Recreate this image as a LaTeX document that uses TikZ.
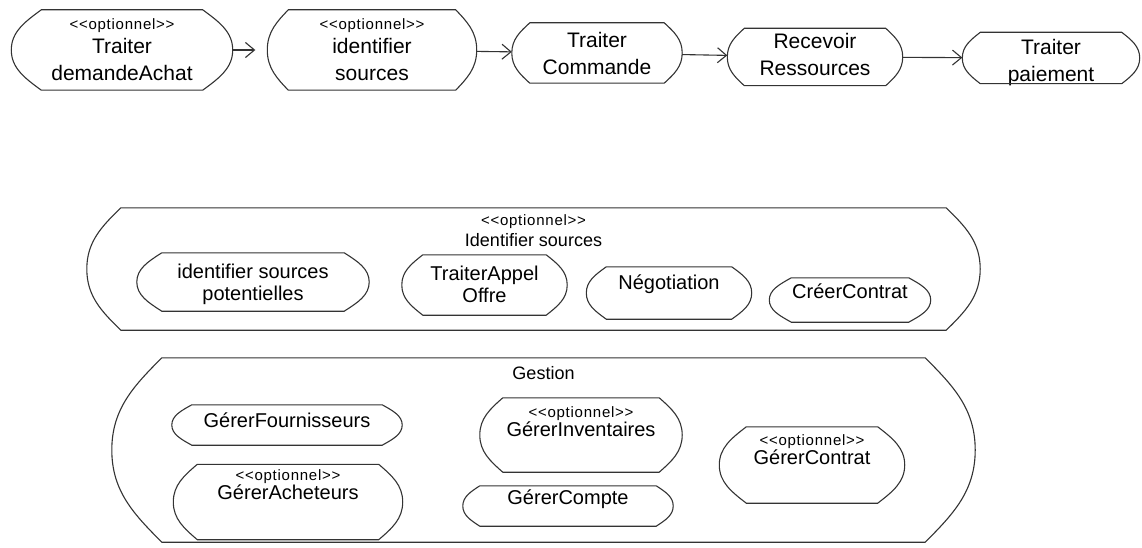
\documentclass[tikz,border=0pt]{standalone}
\usepackage{fontspec}
\setmainfont{Liberation Sans}
\newfontfamily\stfont[LetterSpace=5]{Liberation Sans}
\usetikzlibrary{arrows.meta,positioning,calc}

\newcommand{\opt}{{\stfont\fontsize{15}{17}\selectfont <<optionnel>>}}
% outline of an activity: flat top and bottom, bulging ends
\newcommand{\actshape}[2]{%
  \draw[outl] ([xshift=#2]#1.north west) -- ([xshift=-#2]#1.north east)
    .. controls ([xshift=-0.45*#2]$(#1.north east)!0.3!(#1.east)$) and ($(#1.north east)!0.55!(#1.east)$) .. (#1.east)
    .. controls ($(#1.south east)!0.55!(#1.east)$) and ([xshift=-0.45*#2]$(#1.south east)!0.3!(#1.east)$) .. ([xshift=-#2]#1.south east)
    -- ([xshift=#2]#1.south west)
    .. controls ([xshift=0.45*#2]$(#1.south west)!0.3!(#1.west)$) and ($(#1.south west)!0.55!(#1.west)$) .. (#1.west)
    .. controls ($(#1.north west)!0.55!(#1.west)$) and ([xshift=0.45*#2]$(#1.north west)!0.3!(#1.west)$) .. cycle;}

\begin{document}
\begin{tikzpicture}[
  x=1pt, y=-1pt,
  act/.style={rectangle, inner sep=0pt},
  outl/.style={draw=black!80, line width=1.1pt},
  big/.style={align=center, inner sep=0pt, font=\fontsize{21}{27}\selectfont},
  lbl/.style={align=center, inner sep=0pt, font=\fontsize{20}{22}\selectfont},
  ttl/.style={align=center, inner sep=0pt, font=\fontsize{18}{21}\selectfont},
  flow/.style={-{Straight Barb[length=9pt,width=15pt]}, line width=1.1pt, draw=black!80},
]
\useasboundingbox (0,0) rectangle (1142,548);

% main flow
\node[act, minimum width=221, minimum height=80] (dem) at (122,50) {};
\node[act, minimum width=209, minimum height=80] (ids) at (372,50) {};
\node[act, minimum width=170, minimum height=60] (cmd) at (597,53) {};
\node[act, minimum width=175, minimum height=57] (rec) at (815,57) {};
\node[act, minimum width=177, minimum height=51] (pay) at (1051,58) {};
\node[big] (demt) at (dem.center) {\opt\\[-3pt]Traiter\\demandeAchat};
\node[big] (idst) at (ids.center) {\opt\\[-3pt]identifier\\sources};
\node[big] (cmdt) at (cmd.center) {Traiter\\Commande};
\node[big] (rect) at ([yshift=3pt]rec.center) {Recevoir\\Ressources};
\node[big] (payt) at ([yshift=-5pt]pay.center) {Traiter\\paiement};
\draw[flow, shorten >=12pt] (dem) -- (ids);
\draw[flow] (ids) -- (cmd);
\draw[flow] (cmd) -- (rec);
\draw[flow] (rec) -- (pay);

% Identifier sources
\node[act, minimum width=893, minimum height=122] (src) at (533.5,269) {};
\node[ttl, anchor=north] (srct) at ([yshift=-7pt]src.north) {\opt\\Identifier sources};
\node[act, minimum width=232, minimum height=58] (isp) at (253,282) {};
\node[act, minimum width=165, minimum height=60] (tao) at (484.5,285) {};
\node[act, minimum width=165, minimum height=52] (neg) at (669,293) {};
\node[act, minimum width=161, minimum height=44] (cc) at (850,300) {};
\node[lbl] (ispt) at ([yshift=-2pt]isp.center) {identifier sources\\potentielles};
\node[lbl] (taot) at ([yshift=1pt]tao.center) {TraiterAppel\\Offre};
\node[lbl] (negt) at ([yshift=9pt]neg.center) {Négotiation};
\node[lbl] (cct) at ([yshift=9pt]cc.center) {CréerContrat};

% Gestion
\node[act, minimum width=863, minimum height=184] (gest) at (543.5,450) {};
\node[ttl, anchor=north] (gestt) at ([yshift=-8pt]gest.north) {Gestion};
\node[act, minimum width=230, minimum height=40] (gf) at (287,425) {};
\node[act, minimum width=229, minimum height=75] (ga) at (288,502) {};
\node[act, minimum width=202, minimum height=74] (gi) at (581,435) {};
\node[act, minimum width=210, minimum height=40] (gco) at (568,506) {};
\node[act, minimum width=185, minimum height=76] (gct) at (812,465) {};
\node[lbl] (gft) at ([yshift=5pt]gf.center) {GérerFournisseurs};
\node[lbl] (gat) at ([yshift=17pt]ga.center) {\opt\\[-3pt]GérerAcheteurs};
\node[lbl] (git) at ([yshift=13pt]gi.center) {\opt\\[-3pt]GérerInventaires};
\node[lbl] (gcot) at ([yshift=7pt]gco.center) {GérerCompte};
\node[lbl] (gctt) at ([yshift=15pt]gct.center) {\opt\\[-3pt]GérerContrat};

% outlines
\foreach \n/\s in {dem/30, ids/21, cmd/18, rec/17, pay/18, src/34, isp/25, tao/21,
    neg/20, cc/22, gest/50, gf/20, ga/24, gi/23, gco/17, gct/27}
  \actshape{\n}{\s};
\end{tikzpicture}
\end{document}
